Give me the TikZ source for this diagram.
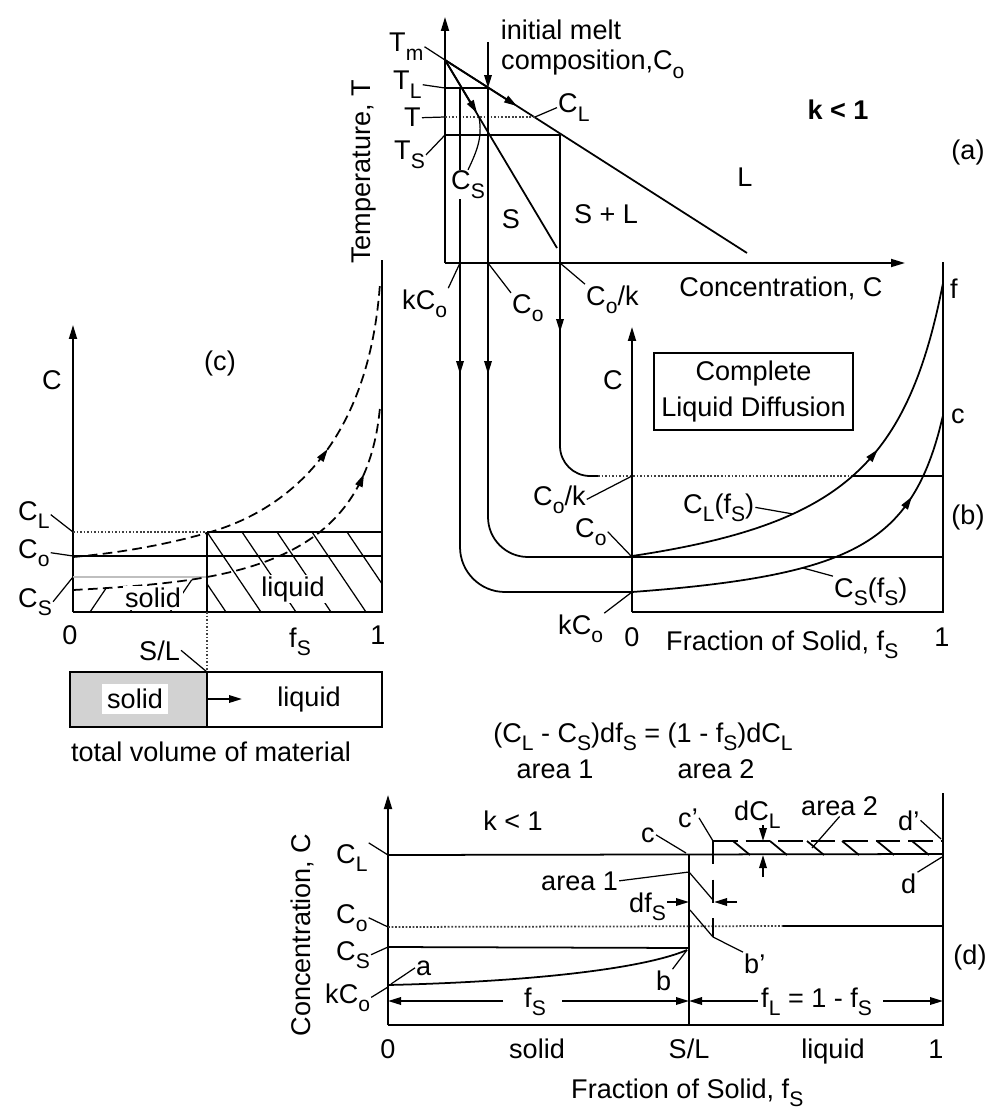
\documentclass[tikz,border=0pt]{standalone}
\usepackage{fontspec}
\setmainfont{Liberation Sans}
\usetikzlibrary{arrows.meta,decorations.markings}
\newcommand{\dn}[1]{\raisebox{-0.3em}{\fontsize{12}{12}\selectfont #1}}
\tikzset{
  ln/.style={line width=1pt},
  lead/.style={line width=0.7pt},
  axis/.style={line width=1pt,-{Triangle[length=2.8mm,width=1.6mm]}},
  arr/.style={line width=1pt,-{Triangle[length=2.6mm,width=1.5mm]}},
  dotline/.style={line width=1pt,densely dotted,black!75},
  dashcurve/.style={line width=1pt,dash pattern=on 5.5pt off 3pt},
  midarr/.style={postaction={decorate},decoration={markings,mark=at position #1 with {\arrow{Triangle[length=2.6mm,width=1.5mm]}}}},
  lbl/.style={inner sep=0.5pt},
}
\begin{document}
\begin{tikzpicture}[x=0.02cm,y=-0.02cm,font=\fontsize{15.4}{20}\selectfont]
\useasboundingbox (0,0) rectangle (987,1108);

% (a) phase diagram
\coordinate (Oa) at (445,263);
\coordinate (Tm) at (445,60);
\coordinate (TL) at (445,88);
\coordinate (T) at (445,117);
\coordinate (TS) at (445,135);
\coordinate (kL) at (460,88);
\coordinate (oL) at (488,88);
\coordinate (kS) at (560,135);
\coordinate (liq) at (747,253);
\coordinate (sol) at (557,248);
\coordinate (CLa) at (535,117);
\coordinate (CSa) at (479,117);
\coordinate (kCa) at (460,263);
\coordinate (Coa) at (488,263);
\coordinate (Coka) at (560,263);
\draw[axis] (Oa) -- (445,17);
\draw[axis] (Oa) -- (905,263);
\draw[ln] (Tm) -- (liq);
\draw[ln] (Tm) -- (sol);
\draw[ln] (TL) -- (oL);
\draw[ln] (TS) -- (kS);
\draw[dotline] (T) -- (CLa);
\draw[arr] (Tm) -- (517,106);
\draw[arr] (Tm) -- (477,113);
\draw[arr] (488,42) -- (oL);
\draw[ln,rounded corners=0.9cm] (kL) -- (460,592) -- (632,592);
\draw[ln,rounded corners=0.8cm] (oL) -- (488,557) -- (943,557);
\draw[ln,rounded corners=0.6cm] (kS) -- (560,476) -- (598,476);
\draw[dotline] (598,476) -- (853,476);
\draw[ln] (853,476) -- (943,476);
\foreach \x/\y in {460/374,488/374,560/332} \draw[arr] (\x,\y-40) -- (\x,\y);

\node[lbl,anchor=base west] (lTm) at (388,52) {T\dn{m}};
\node[lbl,anchor=base west] (lTL) at (392,90) {T\dn{L}};
\node[lbl,anchor=base west] (lT) at (403,127) {T};
\node[lbl,anchor=base west] (lTS) at (393,160) {T\dn{S}};
\draw[lead] (lTm.east) -- (Tm);
\draw[lead] (lTL.east) -- (TL);
\draw[lead] (lT.east) -- (T);
\draw[lead] (lTS.east) -- (TS);
\node[lbl,anchor=base west] (lCL) at (557,113) {C\dn{L}};
\draw[lead] (CLa) -- (lCL.west);
\node[lbl,anchor=base west,fill=white] (lCS) at (450,190) {C\dn{S}};
\draw[lead] (lCS.north) to[out=65,in=-80] (CSa);
\node[lbl,anchor=base] (init) at (561,40) {initial melt};
\node[lbl,anchor=base west] (comp) at (500,70) {composition,C\dn{o}};
\node[lbl,anchor=base,font=\fontsize{15.4}{20}\selectfont\bfseries] (ka) at (838,120) {k < 1};
\node[lbl] (pa) at (968,152) {(a)};
\node[lbl,anchor=base] (rL) at (745,187) {L};
\node[lbl,anchor=base] (rSL) at (606,223) {S + L};
\node[lbl,anchor=base] (rS) at (511,229) {S};
\node[lbl,rotate=90] (tlab) at (364,172) {Temperature, T};
\node[lbl,anchor=base west] (lkCa) at (401,309) {kC\dn{o}};
\node[lbl,anchor=base west] (lCoa) at (511,313) {C\dn{o}};
\node[lbl,anchor=base west] (lCoka) at (585,305) {C\dn{o}/k};
\draw[lead] (lkCa.north east) -- (kCa);
\draw[lead] (Coa) -- (lCoa.north west);
\draw[lead] (Coka) -- (lCoka.north west);
\node[lbl,anchor=base] (xa) at (781,296) {Concentration, C};

% (b) complete liquid diffusion
\coordinate (Ob) at (632,612);
\coordinate (Cokb) at (632,476);
\coordinate (Cob) at (632,557);
\coordinate (kCb) at (632,592);
\coordinate (CLf) at (793,514);
\coordinate (CSf) at (803,568);
\draw[axis] (Ob) -- (632,327);
\draw[ln] (Ob) -- (943,612) -- (943,262);
\node[draw,ln,align=center,minimum width=3.98cm,minimum height=1.54cm,inner sep=2pt] (cld) at (753.5,391.5) {Complete\\Liquid Diffusion};
\draw[ln] plot[domain=0:1,samples=80,smooth] ({632+311*\x},{556-46.4*\x/(1-0.83*\x)});
\draw[ln] plot[domain=0:1,samples=80,smooth] ({632+311*\x},{592-22.97*\x/(1-0.87*\x)});
\draw[arr] (871.5,457) -- (877.7,449.5);
\draw[arr] (905.7,505.8) -- (911.9,496.7);
\node[lbl] (cb) at (613,380) {C};
\node[lbl,anchor=base west] (lf) at (949,298) {f};
\node[lbl,anchor=base west] (lc) at (950,423) {c};
\node[lbl] (pb) at (968,517) {(b)};
\node[lbl,anchor=base west] (lCokb) at (532,505) {C\dn{o}/k};
\node[lbl,anchor=base west] (lCob) at (574,537) {C\dn{o}};
\node[lbl,anchor=base west] (lkCb) at (557,634) {kC\dn{o}};
\draw[lead] (lCokb.east) -- (Cokb);
\draw[lead] (lCob.east) -- (Cob);
\draw[lead] (lkCb.north east) -- (kCb);
\node[lbl,anchor=base] (z0b) at (632,646) {0};
\node[lbl,anchor=base] (z1b) at (942,646) {1};
\node[lbl,anchor=base west] (xb) at (665,650) {Fraction of Solid, f\dn{S}};
\node[lbl,anchor=base west] (lCLf) at (682,513) {C\dn{L}(f\dn{S})};
\draw[lead] (lCLf.east) -- (CLf);
\node[lbl,anchor=base west] (lCSf) at (833,597) {C\dn{S}(f\dn{S})};
\draw[lead] (lCSf.north west) -- (CSf);

% (c) solid / liquid fractions
\coordinate (Oc) at (73,612);
\coordinate (SLt) at (207,532);
\coordinate (SLb) at (207,672);
\coordinate (CLc) at (73,532);
\coordinate (Coc) at (73,556);
\coordinate (CSc) at (73,577);
\draw[axis] (Oc) -- (73,325);
\draw[ln] (Oc) -- (382,612) -- (382,260);
\draw[dotline] (CLc) -- (SLt);
\draw[ln] (SLt) -- (382,532);
\draw[ln] (Coc) -- (382,556);
\draw[gray!50,line width=1.6pt] (CSc) -- (207,577);
\draw[ln] (SLt) -- (207,612);
\draw[dotline] (207,612) -- (SLb);
\begin{scope}
\clip (207,532) rectangle (382,612);
\foreach \i in {-2,...,5} \draw[lead] (207+35*\i,532) -- ++(54,80);
\end{scope}
\begin{scope}
\clip (73,612) -- (73,590) .. controls (130,587) and (175,583) .. (207,577) -- (207,612) -- cycle;
\foreach \x in {50,90,...,210} \draw[lead] (\x,612) -- ++(25,-37);
\end{scope}
\draw[dashcurve] (73,557) .. controls (130,552) and (175,542) .. (207,533);
\draw[dashcurve,midarr=0.46] (207,533) .. controls (300,507) and (370,430) .. (380,283);
\draw[dashcurve] (73,590) .. controls (130,587) and (175,583) .. (207,577);
\draw[dashcurve,midarr=0.74] (207,577) .. controls (300,560) and (370,520) .. (380,407);
\node[lbl] (cc) at (52,380) {C};
\node[lbl] (pc) at (220,363) {(c)};
\node[lbl,anchor=base west] (lCLc) at (17,520) {C\dn{L}};
\node[lbl,anchor=base west] (lCoc) at (17,558) {C\dn{o}};
\node[lbl,anchor=base west] (lCSc) at (17,607) {C\dn{S}};
\draw[lead] (lCLc.east) -- (CLc);
\draw[lead] (lCoc.east) -- (Coc);
\draw[lead] (lCSc.east) -- (CSc);
\node[lbl,fill=white,inner sep=1pt] (solc) at (153,598) {solid};
\node[lbl,fill=white,inner sep=1pt] (liqc) at (293,589) {liquid};
\node[lbl,anchor=base] (z0c) at (70,644) {0};
\node[lbl,anchor=base] (z1c) at (378,644) {1};
\node[lbl,anchor=base west] (fsc) at (288,647) {f\dn{S}};
\node[lbl,anchor=base west] (slc) at (138,660) {S/L};
\draw[lead] (slc.east) -- (SLb);
\fill[gray!35] (70,672) rectangle (207,727);
\draw[ln] (70,672) rectangle (382,727);
\draw[ln] (SLb) -- (207,727);
\node[lbl,fill=white,inner sep=3pt] (solb) at (135,699) {solid};
\node[lbl] (liqb) at (309,699) {liquid};
\coordinate (mv) at (207,699);
\draw[arr] (mv) -- ++(35,0);
\node[lbl] (tot) at (211,752) {total volume of material};

% (d) mass balance
\coordinate (Od) at (388,1025);
\coordinate (CLd) at (388,855);
\coordinate (Cod) at (388,927);
\coordinate (CSd) at (388,947);
\coordinate (kCd) at (388,987);
\coordinate (ad) at (391,984);
\coordinate (bd) at (687,950);
\coordinate (cd) at (686,853);
\coordinate (cpd) at (713,841);
\coordinate (bpd) at (713,937);
\coordinate (a1d) at (689,872);
\coordinate (a2d) at (812,848);
\coordinate (dfl) at (689,902);
\coordinate (dfr) at (714,902);
\coordinate (dCt) at (763,841);
\coordinate (dCb) at (763,855);
\coordinate (dpd) at (941,839);
\coordinate (dd) at (942,857);
\coordinate (a0) at (388,1001);
\coordinate (aSL) at (689,1001);
\coordinate (a1) at (943,1001);
\draw[axis] (Od) -- (388,795);
\draw[ln] (Od) -- (943,1025) -- (943,793);
\draw[ln] (CLd) -- (943,854);
\draw[ln] (689,854) -- (689,1025);
\draw[dotline] (Cod) -- (783,926);
\draw[ln] (783,926) -- (943,926);
\draw[ln] (CSd) -- (689,948);
\draw[ln] (388,985) .. controls (520,982) and (640,970) .. (bd);
\draw[ln,dash pattern=on 14pt off 4.5pt] (cpd) -- (943,841);
\draw[lead,dash pattern=on 13pt off 9pt] (cpd) -- (bpd);
\draw[lead] (a1d) -- (713,900);
\draw[lead] (690,910) -- (bpd);
\foreach \x in {733,770,807,842,877,912} \draw[ln] (\x,841) -- ++(17,14);
\node[lbl,anchor=base west] (fsd) at (523,1007) {f\dn{S}};
\node[lbl,anchor=base west] (fld) at (760,1007) {f\dn{L} = 1 - f\dn{S}};
\draw[arr] ([xshift=-0.4cm]fsd.west |- a0) -- (a0);
\draw[arr] ([xshift=0.3cm]fsd.east |- a0) -- (aSL);
\draw[arr] ([xshift=-0.05cm]fld.west |- a0) -- (aSL);
\draw[arr] ([xshift=0.2cm]fld.east |- a0) -- (a1);
\node[lbl,anchor=base] (z0d) at (388,1058) {0};
\node[lbl,anchor=base] (sold) at (537,1058) {solid};
\node[lbl,anchor=base] (sld) at (689,1058) {S/L};
\node[lbl,anchor=base] (liqd) at (833,1058) {liquid};
\node[lbl,anchor=base] (z1d) at (936,1058) {1};
\node[lbl,anchor=base west] (xd) at (570,1098) {Fraction of Solid, f\dn{S}};
\node[lbl,rotate=90] (yd) at (302,935) {Concentration, C};
\node[lbl,anchor=base west] (lCLd) at (335,863) {C\dn{L}};
\node[lbl,anchor=base west] (lCod) at (335,923) {C\dn{o}};
\node[lbl,anchor=base west] (lCSd) at (335,960) {C\dn{S}};
\node[lbl,anchor=base west] (lkCd) at (324,1003) {kC\dn{o}};
\draw[lead] (lCLd.north east) -- (CLd);
\draw[lead] (lCod.east) -- (Cod);
\draw[lead] (lCSd.east) -- (CSd);
\draw[lead] (lkCd.east) -- (kCd);
\node[lbl,anchor=base west] (la) at (415,975) {a};
\draw[lead] (la.west) -- (ad);
\node[lbl,anchor=base west] (lb) at (655,990) {b};
\draw[lead] (lb.north east) -- (bd);
\node[lbl,anchor=base] (kd) at (513,830) {k < 1};
\node[lbl,anchor=base west] (lcd) at (640,842) {c};
\draw[lead] (lcd.east) -- (cd);
\node[lbl,anchor=base west] (lcpd) at (677,827) {c'};
\draw[lead] (lcpd.east) -- (cpd);
\node[lbl,anchor=base west] (lbpd) at (743,973) {b'};
\draw[lead] (bpd) -- (lbpd.north west);
\node[lbl,anchor=base west] (la1) at (540,890) {area 1};
\draw[lead] (la1.east) -- (a1d);
\node[lbl,anchor=base west] (ldf) at (628,912) {df\dn{S}};
\draw[arr] (ldf.east |- dfl) -- (dfl);
\draw[arr] (737,902) -- (dfr);
\node[lbl,anchor=base west] (ldC) at (733,820) {dC\dn{L}};
\draw[arr] (763,825) -- (dCt);
\draw[arr] (763,877) -- (dCb);
\node[lbl,anchor=base west] (la2) at (800,815) {area 2};
\draw[lead] (la2.south) -- (a2d);
\node[lbl,anchor=base west] (ldp) at (897,830) {d'};
\draw[lead] (ldp.east) -- (dpd);
\node[lbl,anchor=base west] (ld) at (900,893) {d};
\draw[lead] (ld.north east) -- (dd);
\node[lbl] (pd) at (970,957) {(d)};
\node[lbl,anchor=base] (eq) at (643,742) {(C\dn{L} - C\dn{S})df\dn{S} = (1 - f\dn{S})dC\dn{L}};
\node[lbl,anchor=base] (ar1) at (555,778) {area 1};
\node[lbl,anchor=base] (ar2) at (716,778) {area 2};
\end{tikzpicture}
\end{document}
